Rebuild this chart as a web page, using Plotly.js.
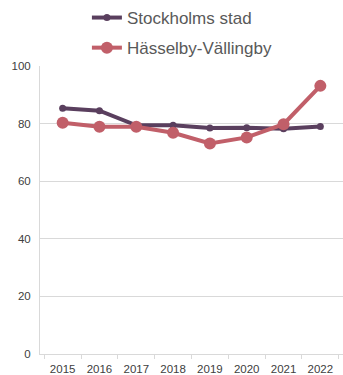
<!DOCTYPE html>
<html><head><meta charset="utf-8">
<script src="https://cdn.plot.ly/plotly-3.0.1.min.js"></script>
<style>html,body{margin:0;padding:0;background:#fff}#c{width:343px;height:375px}</style>
</head><body><div id="c"></div>
<script>
const years = ['2015','2016','2017','2018','2019','2020','2021','2022'];
const stockholm = [85.3, 84.5, 79.4, 79.4, 78.5, 78.6, 78.2, 79.0];
const hasselby = [80.3, 78.9, 78.9, 76.8, 73.1, 75.2, 79.8, 93.1];
const names = ['Stockholms stad', 'Hässelby-Vällingby'];

const traces = [
  {x: years, y: stockholm, name: names[0], type: 'scatter', mode: 'lines+markers',
   legendgroup: 'a', line: {color: '#5a3f5e', width: 4}, marker: {size: 7, color: '#5a3f5e'}},
  {x: years, y: hasselby, name: names[1], type: 'scatter', mode: 'lines+markers',
   legendgroup: 'b', line: {color: '#c15f69', width: 4}, marker: {size: 12, color: '#c15f69'}}
];
const layout = {
  width: 343, height: 375,
  margin: {l: 40, r: 0, t: 66, b: 21},
  paper_bgcolor: '#fff', plot_bgcolor: '#fff',
  font: {family: 'Liberation Sans, Arial, sans-serif', color: '#404040', size: 11},
  showlegend: true,
  legend: {orientation: 'v', x: 0.47, xanchor: 'center', y: 1.03, yanchor: 'top', yref: 'container',
           font: {size: 17, color: '#595959'}, tracegroupgap: 5, bgcolor: 'rgba(0,0,0,0)'},
  xaxis: {type: 'category', tickson: 'boundaries', ticks: 'outside', ticklen: 4, tickcolor: '#d9d9d9',
          showgrid: false, showline: true, linecolor: '#d9d9d9', linewidth: 1, zeroline: false,
          ticklabelstandoff: 4,
          tickfont: {size: 11.5, color: '#404040'}, fixedrange: true},
  yaxis: {range: [0, 100], dtick: 20, showgrid: true, gridcolor: '#d9d9d9', gridwidth: 1,
          showline: true, linecolor: '#d9d9d9', zeroline: false, ticks: '', ticklabelstandoff: 6,
          tickfont: {size: 11.5, color: '#404040'}, fixedrange: true}
};
Plotly.newPlot('c', traces, layout, {displayModeBar: false, staticPlot: true});
</script></body></html>
